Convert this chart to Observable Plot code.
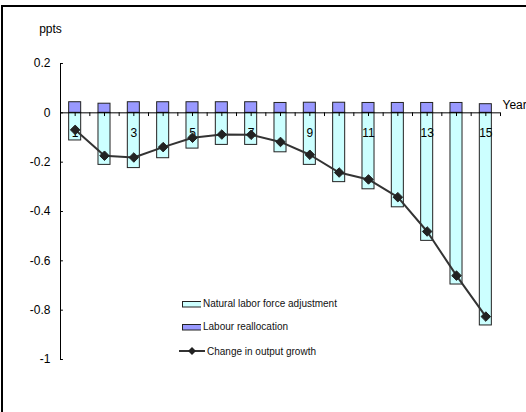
<!DOCTYPE html>
<html>
<head>
<meta charset="utf-8">
<script src="https://cdn.jsdelivr.net/npm/d3@7"></script>
<script src="https://cdn.jsdelivr.net/npm/@observablehq/plot@0.6"></script>
<style>
  html, body { margin: 0; padding: 0; background: #fff; }
  #wrap { position: relative; width: 526px; height: 412px; overflow: hidden; font-family: "Liberation Sans", Arial, sans-serif; }
  #frame { position: absolute; left: 1px; top: 5px; width: 700px; height: 600px; border-top: 2px solid #000; border-left: 2px solid #000; pointer-events: none; }
  .lg { position: absolute; left: 179px; height: 12px; display: flex; align-items: center; font-size: 10px; color: #111; white-space: nowrap; }
  .lg svg { display: block; margin-right: 2px; }
</style>
</head>
<body>
<div id="wrap">
  <div id="chart"></div>
  <div id="frame"></div>
  <div id="legend"></div>
</div>
<script>
const years = [1, 2, 3, 4, 5, 6, 7, 8, 9, 10, 11, 12, 13, 14, 15];
const natural = [-0.112, -0.211, -0.224, -0.184, -0.145, -0.13, -0.13, -0.16, -0.211, -0.281, -0.31, -0.383, -0.519, -0.696, -0.862];
const realloc = [0.043, 0.037, 0.043, 0.043, 0.043, 0.043, 0.043, 0.04, 0.041, 0.041, 0.04, 0.04, 0.04, 0.04, 0.035];
const output = [-0.069, -0.174, -0.181, -0.139, -0.101, -0.088, -0.089, -0.118, -0.170, -0.242, -0.27, -0.342, -0.481, -0.66, -0.826];
const yTicks = [0.2, 0, -0.2, -0.4, -0.6, -0.8, -1];
const yTickLabels = ["0.2", "0", "-0.2", "-0.4", "-0.6", "-0.8", "-1"];
const xLabelYears = [1, 3, 5, 7, 9, 11, 13, 15];
const seriesNames = ["Natural labor force adjustment", "Labour reallocation", "Change in output growth"];
const colors = {natural: "#CCFFFF", realloc: "#9999FF", line: "#333333"};

const rows = years.map((y, i) => ({year: y, natural: natural[i], realloc: realloc[i], output: output[i]}));
const hw = 0.205; // half bar width in category units
const xMin = 0.5, xMax = 15.5;
const xTickVals = d3.range(xMin + 0.5, xMax + 0.001, 0.5);
const yTickRows = yTicks.map((v, i) => ({v, label: yTickLabels[i]}));

const chart = Plot.plot({
  width: 526,
  height: 412,
  marginLeft: 60,
  marginRight: 26,
  marginTop: 63,
  marginBottom: 53,
  x: {type: "linear", domain: [xMin, xMax], axis: null},
  y: {domain: [-1, 0.2], axis: null},
  style: {fontFamily: "'Liberation Sans', Arial, sans-serif", fontSize: "12px", background: "transparent", overflow: "visible"},
  marks: [
    Plot.rectY(rows, {x1: d => d.year - hw, x2: d => d.year + hw, y1: 0, y2: "natural", fill: colors.natural, stroke: "#222", strokeWidth: 1}),
    Plot.rectY(rows, {x1: d => d.year - hw, x2: d => d.year + hw, y1: 0, y2: "realloc", fill: colors.realloc, stroke: "#222", strokeWidth: 1}),
    // axes
    Plot.ruleX([xMin], {y1: -1, y2: 0.2, stroke: "#000"}),
    Plot.ruleY(yTickRows, {y: "v", x1: xMin, x2: xMin + 0.1, stroke: "#000"}),
    Plot.text(yTickRows, {x: xMin, y: "v", text: "label", textAnchor: "end", dx: -10, fill: "#000"}),
    Plot.ruleY([0], {x1: xMin, x2: xMax, stroke: "#000"}),
    Plot.ruleX(xTickVals, {x: d => d, y1: 0, y2: -0.015, stroke: "#000"}),
    Plot.text(xLabelYears, {x: d => d, y: 0, text: d => String(d), dy: 20, fill: "#000"}),
    Plot.text(["Year"], {x: xMax, y: 0, text: d => d, textAnchor: "start", dx: 2, dy: -8, fill: "#000"}),
    Plot.text(["ppts"], {x: xMin, y: 0.2, text: d => d, dx: -10, dy: -34, fill: "#000"}),
    // line
    Plot.line(rows, {x: "year", y: "output", stroke: colors.line, strokeWidth: 2}),
    Plot.dot(rows, {x: "year", y: "output", symbol: "diamond2", r: 4.3, fill: "#222", stroke: "#222", strokeWidth: 1})
  ]
});
document.getElementById("chart").appendChild(chart);

// legend
const lg = document.getElementById("legend");
const rowsLg = [
  {name: seriesNames[0], top: 297.5, sw: `<svg width="22" height="8"><rect x="3.5" y="1.5" width="19" height="5.5" fill="${colors.natural}" stroke="#222"/></svg>`},
  {name: seriesNames[1], top: 320.5, sw: `<svg width="22" height="8"><rect x="3.5" y="1.5" width="19" height="5.5" fill="${colors.realloc}" stroke="#222"/></svg>`},
  {name: seriesNames[2], top: 345, sw: `<svg width="26" height="10"><line x1="0" y1="5" x2="26" y2="5" stroke="${colors.line}" stroke-width="2"/><path d="M13,1 L17,5 L13,9 L9,5 Z" fill="#222"/></svg>`}
];
rowsLg.forEach(r => {
  const d = document.createElement("div");
  d.className = "lg";
  d.style.top = r.top + "px";
  d.innerHTML = r.sw + `<span>${r.name}</span>`;
  lg.appendChild(d);
});
</script>
</body>
</html>
